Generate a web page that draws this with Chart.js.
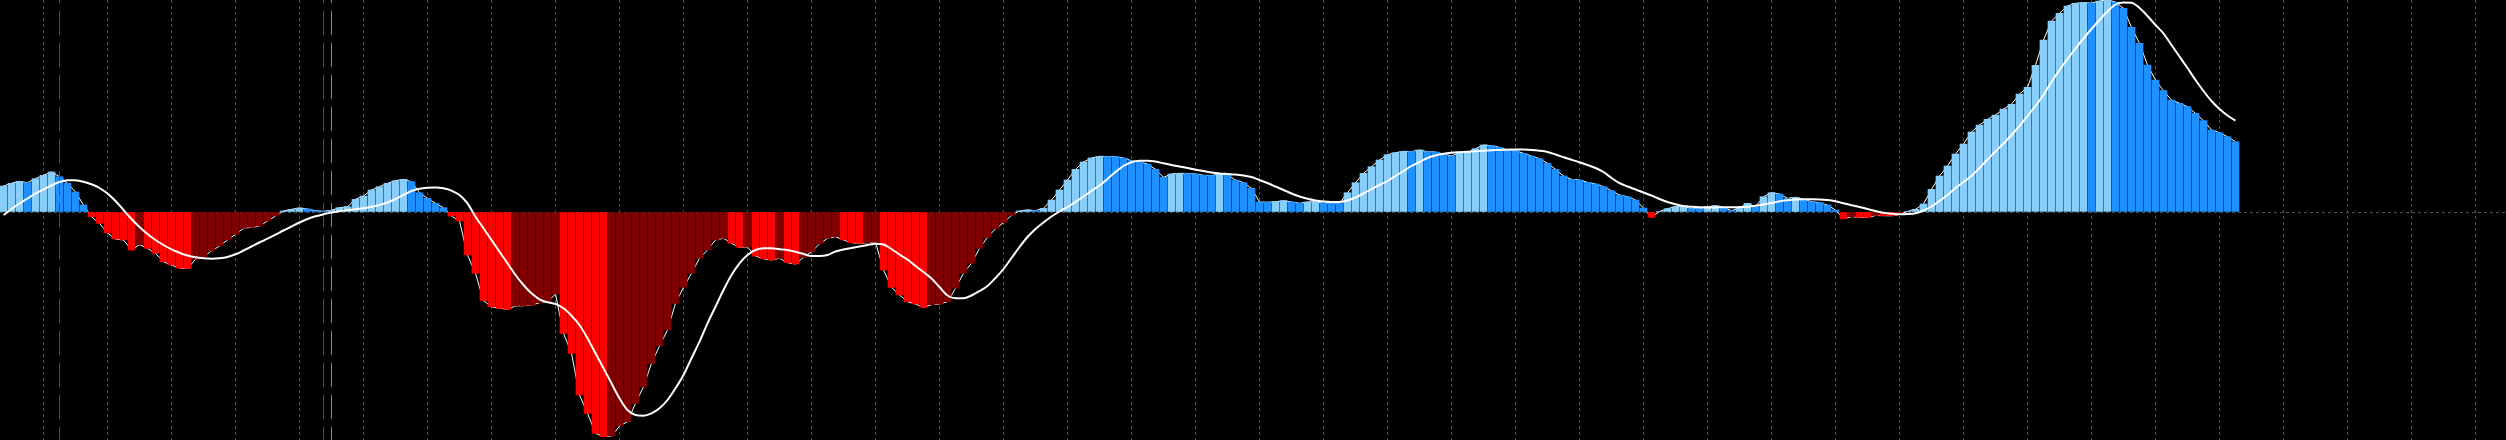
<!DOCTYPE html>
<html lang="en">
<head>
<meta charset="UTF-8">
<title>MACD histogram</title>
<script src="https://cdn.jsdelivr.net/npm/chart.js@4.4.0/dist/chart.umd.min.js"></script>
<style>
  html, body { margin: 0; padding: 0; background: #000; overflow: hidden; }
  canvas { display: block; }
</style>
</head>
<body>
<canvas id="macd" width="2506" height="440"></canvas>
<script>
// histogram values, one per bar (oldest first)
const histogram = [
  26, 28.7, 30.7, 29.3, 33.3, 36.7, 40, 35.3, 28.7, 20,
  7, -4.7, -11.3, -21, -27, -28, -38, -32.7, -36.3, -41.3,
  -49.7, -53, -56, -56.5, -47.3, -44.7, -39, -34, -28, -22.3,
  -16.3, -15.3, -14, -9, -4, 1, 2.7, 4, 3, 1.3,
  0.7, 1.7, 4.3, 5.3, 12.7, 16, 22, 25.3, 28.7, 31.3,
  32.7, 30.3, 19.3, 13.7, 8.7, 4.3, -4, -9, -43, -61.3,
  -88.7, -94.7, -96.3, -97.3, -94, -93.8, -93.3, -90.7, -89.7, -82,
  -121.3, -141.3, -183, -201.3, -221.3, -224.7, -224, -214, -209.7, -191.3,
  -174.7, -151.3, -134, -118, -91.3, -75.3, -61.3, -46.3, -38, -28,
  -26.3, -31.3, -35.3, -35, -44, -46.7, -48, -46.3, -50.7, -52,
  -45.3, -39.7, -32, -26.3, -24.7, -28, -30.7, -31.3, -30.7, -30.3,
  -58, -75.3, -83, -89.7, -92, -95.3, -92.7, -92, -89.7, -76.3,
  -61.3, -51.3, -36.3, -25.3, -16.7, -10.7, -3.3, 1, 2, 1.3,
  3.7, 12, 22, 32, 42.7, 50, 54, 55.7, 55.5, 55.3,
  54, 51.3, 50, 48, 42.7, 34.7, 38, 38.7, 38.5, 38,
  36.7, 36.5, 38, 37, 32, 29.3, 23.7, 10, 9.8, 10.2,
  11.3, 10, 8.7, 10, 10.2, 8.7, 8.6, 8.5, 19.3, 29.3,
  38.7, 45.3, 52, 57.3, 59.3, 60.7, 60.5, 62, 60.3, 60,
  58, 56, 59.3, 59.5, 63.3, 67, 66.3, 64.7, 62, 61.3,
  58.7, 56, 53.3, 48.7, 42.7, 36, 32.7, 32, 29.7, 28,
  25.3, 21.3, 17, 15.3, 12, 4, -5.3, 0.5, 3.3, 5.3,
  5.5, 3.3, 3.2, 5.3, 6.3, 4.7, 1.3, 4, 8.7, 5.3,
  15.3, 19.3, 18, 13.7, 14.7, 12.7, 10.3, 9.3, 7, 2,
  -6.7, -4.7, -5.3, -5.5, -3.5, -3.7, -3.8, -2.5, 0.5, 2.7,
  8, 22.7, 36, 46, 58, 68, 80, 87, 92.7, 97,
  103, 107.7, 118, 124.7, 146.7, 172, 191, 198.7, 206, 208.7,
  209.3, 209, 211, 212, 210, 203.7, 184.7, 168.7, 147, 132,
  121.3, 112, 108.7, 105.3, 98.7, 91.3, 82, 79.3, 75.3, 70.3
];

// signal line values, one per bar
const signal = [
  -3, 3, 8.5, 13.5, 18.5, 22.5, 26.5, 30, 31.8, 31.7,
  30.3, 27.8, 24, 18.5, 11, 2, -7, -15, -22, -28,
  -33, -37.3, -40.7, -43.5, -45.3, -46.3, -46.7, -46.3, -45, -42.3,
  -38.5, -34.5, -30.5, -26.7, -22.7, -18.5, -14.5, -10.5, -7, -4.3,
  -2.3, -0.5, 0.8, 1.8, 2.7, 3.7, 5.2, 7, 9.5, 13,
  17, 21, 23.3, 24.3, 24.5, 23.7, 21.3, 17, 8.7, -4.7,
  -16.3, -28, -39.7, -51.3, -63, -73, -81.3, -87.3, -90.3, -92,
  -96.3, -103.7, -113, -126.3, -141.3, -156.3, -171.3, -186.3, -198, -203,
  -203.7, -201.3, -196.3, -188, -176.3, -163, -146.3, -129.7, -111.3, -94.7,
  -78, -63, -51.3, -43, -38, -36.3, -36.3, -37.3, -38, -39.7,
  -42, -44, -44, -43, -39.5, -37.5, -36, -34.5, -33, -31.8,
  -32.5, -37, -42.5, -47.5, -54, -60, -66.5, -75, -83.5, -86.3,
  -86.3, -83.5, -79, -74, -66, -57, -46, -35, -25, -17,
  -10.5, -4.5, 0.5, 5, 10, 15.5, 21, 26.5, 33, 40,
  46, 49.8, 51.3, 51.3, 50.5, 48.7, 47, 45.5, 44, 42.3,
  41, 39.5, 38.5, 38, 37.5, 36.5, 35, 32, 29, 25.5,
  22, 18.5, 15.5, 13.3, 11.5, 10.5, 10, 10, 11.5, 14.5,
  18.5, 23, 27, 31, 36, 41, 46, 50, 54, 56.5,
  58.3, 59.3, 59.8, 60.2, 60.8, 61.3, 61.7, 62, 62.3, 62.6,
  62.5, 62.1, 61.3, 60, 57.5, 54.7, 52.3, 49.8, 47, 44,
  40, 34, 28.8, 25.5, 22.5, 19.5, 16.5, 13, 10, 7.8,
  6, 5.2, 4.7, 4.6, 4.6, 4.7, 4.7, 4.9, 5.2, 6.3,
  7.5, 9, 10.7, 11.8, 12.5, 12.7, 12.7, 12.6, 12, 10.8,
  8.7, 6.8, 5, 3, 1, -0.8, -1.8, -2.2, -2, -1.2,
  1.5, 5.5, 11, 17, 24, 30, 36, 44, 52.5, 60.5,
  68.5, 77, 86, 96, 106, 117, 130, 142, 153, 163.5,
  173.5, 183, 192, 200.5, 207.5, 209.5, 209.3, 204, 196, 187,
  178.5, 167, 155.5, 144, 132, 121, 111, 103, 96.5, 91.3
];

// bars where the vertical session markers sit
const redMarkers = [7, 40];
const greenMarkers = [41];

const yMin = -228;
const yMax = 212;
const gridStart = 5;
const gridStep = 8;

function barColor(i) {
  const v = histogram[i];
  const prev = i > 0 ? histogram[i - 1] : v - 1;
  if (v >= 0) return v > prev ? '#87CEFA' : '#1E90FF';
  return v < prev ? '#FF0000' : '#800000';
}

function markerSet(x, color, order) {
  return {
    type: 'line',
    data: [{x: x, y: yMax}, {x: x, y: yMin}],
    borderColor: color,
    borderWidth: 1,
    borderDash: [24, 8],
    borderDashOffset: 21,
    pointRadius: 0,
    order: order
  };
}

const ctx = document.getElementById('macd').getContext('2d');
const chart = new Chart(ctx, {
  type: 'bar',
  data: {
    datasets: [
      {
        type: 'line',
        data: histogram.map((v, i) => ({x: i, y: v})),
        borderColor: '#ffffff',
        borderWidth: 1,
        pointRadius: 0,
        order: 5
      },
      {
        type: 'bar',
        data: histogram.map((v, i) => ({x: i, y: v})),
        backgroundColor: histogram.map((v, i) => barColor(i)),
        borderWidth: 0,
        barThickness: 7,
        order: 4
      },
      ...redMarkers.map(x => markerSet(x, '#FF0000', 3)),
      ...greenMarkers.map(x => markerSet(x, '#3CB371', 3)),
      {
        type: 'line',
        data: signal.map((v, i) => ({x: i, y: v})),
        borderColor: '#ffffff',
        borderWidth: 2,
        pointRadius: 0,
        cubicInterpolationMode: 'monotone',
        order: 1
      }
    ]
  },
  options: {
    responsive: false,
    devicePixelRatio: 1,
    animation: false,
    layout: { padding: 0 },
    plugins: {
      legend: { display: false },
      tooltip: { enabled: false }
    },
    scales: {
      x: {
        type: 'linear',
        min: -0.4375,
        max: 312.8125,
        offset: false,
        afterBuildTicks: axis => {
          const ticks = [];
          for (let v = gridStart; v <= axis.max; v += gridStep) ticks.push({value: v});
          axis.ticks = ticks;
        },
        ticks: { display: false },
        grid: { color: '#505050', lineWidth: 1, drawTicks: false, offset: false },
        border: { display: false, dash: [3, 3] }
      },
      y: {
        min: yMin,
        max: yMax,
        afterBuildTicks: axis => { axis.ticks = [{value: 0}]; },
        ticks: { display: false },
        grid: { color: '#505050', lineWidth: 1, drawTicks: false },
        border: { display: false, dash: [3, 3] }
      }
    }
  }
});
</script>
</body>
</html>
